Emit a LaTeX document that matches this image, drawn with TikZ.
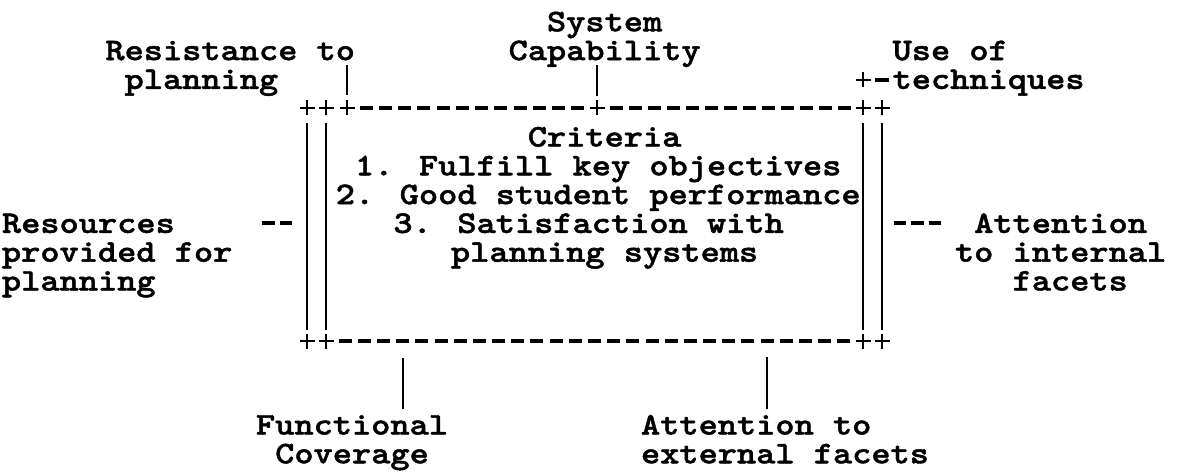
\documentclass[tikz,border=0pt]{standalone}
\usepackage{fontspec}
\newfontfamily\cour{lmmonolt10-bold}[Extension=.otf,FakeStretch=1.161,FakeBold=1.4]
\newdimen\cwd \cwd=19.2pt
\newcommand\ind[1]{\hspace*{#1\cwd}}
\newcommand\fl{\rule{0pt}{22pt}}
\newcommand\lblfont{\cour\fontsize{31.5}{28.8}\selectfont}
\lineskiplimit=-100pt
\begin{document}
\lineskiplimit=-100pt
\begin{tikzpicture}[x=1pt,y=-1pt,
  lbl/.style={font=\lblfont, align=left, inner sep=0pt, outer sep=0pt, anchor=north west},
  vln/.style={line width=2.5pt},
  hy/.style={line width=3.2pt},
  crossmk/.pic={\draw[line width=2.7pt] (-7.5,0) -- (7.5,0) (0,-7.5) -- (0,7.5);}
]
\fill[white] (0,0) rectangle (1194,473);
\path[use as bounding box] (0,0) rectangle (1194,473);

% labels
\node[lbl] (sys)  at (508.6,9.3)  {\fl\ind{2}System\\Capability};
\node[lbl] (res)  at (105.4,38.1) {\fl Resistance to\\\ind{1}planning};
\node[lbl] (use)  at (892.6,38.1) {\fl Use of\\techniques};
\node[lbl] (crit) at (335.8,124.5) {\fl\ind{10}Criteria\\\ind{1}1. Fulfill key objectives\\2. Good student performance\\\ind{3}3. Satisfaction with\\\ind{6}planning systems};
\node[lbl] (rsc)  at (2,210.9)    {\fl Resources\\provided for\\planning};
\node[lbl] (ati)  at (955,210.9)  {\fl\ind{1}Attention\\to internal\\\ind{3}facets};
\node[lbl] (fun)  at (256,412.5)  {\fl Functional\\\ind{1}Coverage};
\node[lbl] (ate)  at (641,412.5)  {\fl Attention to\\external facets};

% junction points
\coordinate (t1) at (307,108);
\coordinate (t2) at (326,108);
\coordinate (t3) at (347,108);
\coordinate (t4) at (597,108);
\coordinate (t5) at (863,108);
\coordinate (t6) at (882,108);
\coordinate (b1) at (307,341);
\coordinate (b2) at (326,341);
\coordinate (b5) at (863,341);
\coordinate (b6) at (882,341);
\coordinate (tq) at (863,80);
\coordinate (lc) at (307,223);
\coordinate (rc) at (882,223);
\coordinate (bf) at (403,341);
\coordinate (ba) at (767,341);

% plus marks
\foreach \p in {t1,t2,t3,t4,t5,t6,b1,b2,b5,b6,tq} \pic at (\p) {crossmk};

% box: double verticals
\draw[vln] ([yshift=-15pt]t1) -- ([yshift=11pt]b1);
\draw[vln] ([yshift=-15pt]t2) -- ([yshift=11pt]b2);
\draw[vln] ([yshift=-15pt]t5) -- ([yshift=11pt]b5);
\draw[vln] ([yshift=-15pt]t6) -- ([yshift=11pt]b6);

% box: dashed horizontals
\draw[hy, dash pattern=on 13pt off 6.23pt] ([xshift=12.73pt]t3) -- ([xshift=-12.73pt]t4);
\draw[hy, dash pattern=on 13pt off 6pt] ([xshift=12.5pt]t4) -- ([xshift=-12.5pt]t5);
\draw[hy, dash pattern=on 13pt off 6.18pt] ([xshift=12.68pt]b2) -- ([xshift=-12.68pt]b5);

% connectors
\draw[vln] ([yshift=13pt]t3) -- ++(0,-30);
\draw[vln] ([yshift=12pt]t4) -- ++(0,-31);
\draw[hy] ([xshift=12pt]tq) -- ([xshift=26pt]tq);
\draw[hy, dash pattern=on 12.5pt off 5pt] ([xshift=-15pt]lc) -- ([xshift=-45pt]lc);
\draw[hy, dash pattern=on 12.3pt off 5pt] ([xshift=12pt]rc) -- ([xshift=58.9pt]rc);
\draw[vln] ([yshift=-17pt]bf) -- ([yshift=4pt]bf |- fun.north);
\draw[vln] ([yshift=-16pt]ba) -- ([yshift=4pt]ba |- ate.north);
\end{tikzpicture}
\end{document}
